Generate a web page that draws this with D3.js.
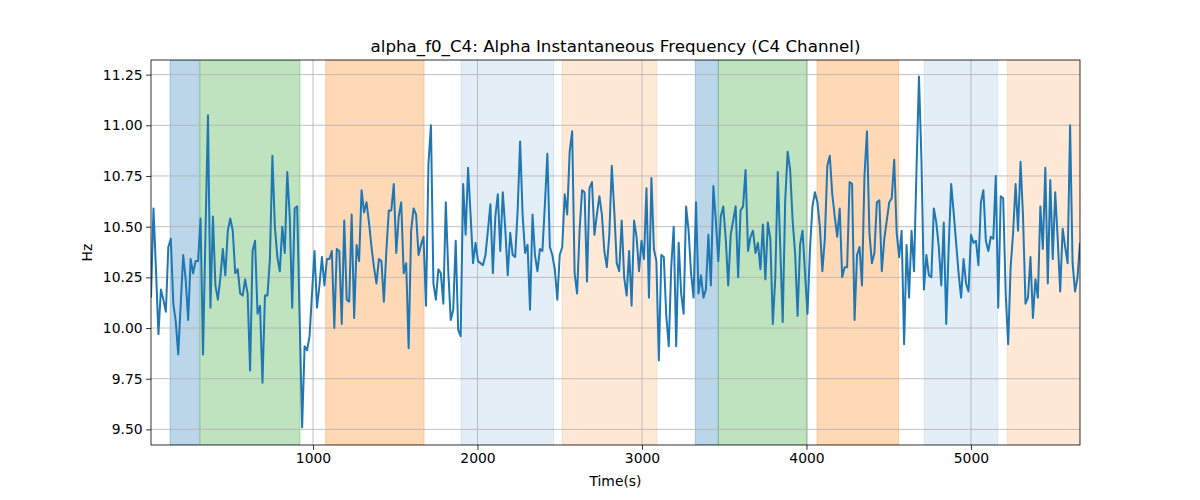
<!DOCTYPE html>
<html>
<head>
<meta charset="utf-8">
<script src="https://cdn.jsdelivr.net/npm/d3@7"></script>
<style>
  html, body { margin: 0; padding: 0; background: #ffffff; }
  svg { display: block; font-family: "DejaVu Sans", sans-serif; }
</style>
</head>
<body>
<svg id="chart" width="1200" height="500"></svg>
<script>
// ---------------- data ----------------
const titleText = "alpha_f0_C4: Alpha Instantaneous Frequency (C4 Channel)";
const xLabel = "Time(s)";
const yLabel = "Hz";

const tStart = 15;      // first sample time (s)
const tEnd = 5663;      // last sample time (s)

const freqValues = [
  10.15,10.59,10.29,9.97,10.19,10.14,10.08,10.40,10.44,10.12,
  10.03,9.87,10.12,10.36,10.24,10.04,10.34,10.27,10.33,10.33,
  10.54,9.87,10.47,11.05,10.10,10.55,10.21,10.14,10.25,10.39,
  10.26,10.48,10.54,10.48,10.27,10.29,10.17,10.16,10.24,10.17,
  9.79,10.38,10.43,10.07,10.11,9.73,10.16,10.16,10.34,10.85,
  10.50,10.35,10.28,10.50,
  10.37,10.77,10.55,10.10,10.59,10.60,10.05,9.51,9.91,9.89,
  9.96,10.17,10.38,10.10,10.21,10.35,10.21,10.34,10.34,10.38,
  10.00,10.39,10.38,10.02,10.53,10.14,10.13,10.56,10.05,10.41,
  10.33,10.68,10.57,10.62,10.52,10.40,10.30,10.22,10.34,10.33,
  10.13,10.38,10.58,10.58,10.71,10.37,10.55,10.62,10.27,10.32,
  9.90,10.48,10.59,
  10.56,10.36,10.41,10.45,10.11,10.81,11.00,10.22,10.14,10.29,
  10.27,10.12,10.62,10.28,10.04,10.09,10.43,9.99,9.96,10.71,
  10.46,10.79,10.56,10.32,10.42,10.33,10.32,10.31,10.36,10.48,
  10.61,10.27,10.55,10.66,10.38,10.67,10.49,10.26,10.47,10.36,
  10.35,10.58,10.92,10.56,10.37,10.41,10.09,10.56,10.36,10.28,
  10.39,10.38,10.61,10.86,
  10.40,10.36,10.29,10.14,10.36,10.40,10.66,10.56,10.87,10.97,
  10.27,10.17,10.48,10.68,10.67,10.23,10.69,10.72,10.46,10.56,
  10.65,10.56,10.38,10.30,
  10.46,10.80,10.58,10.32,10.28,10.53,10.25,10.16,10.38,10.11,
  10.53,10.45,10.28,10.43,10.34,10.69,10.15,10.74,10.39,10.33,
  9.84,10.36,10.35,10.06,9.91,10.30,10.50,9.91,10.42,10.17,
  10.07,10.60,10.48,10.27,10.15,10.62,10.17,10.26,10.15,10.19,
  10.46,10.21,10.70,10.53,10.33,10.55,10.60,10.44,10.21,10.46,
  10.53,10.60,10.25,10.58,10.60,10.78,10.38,10.45,10.48,10.37,
  10.42,10.29,10.51,10.24,10.52,10.44,10.02,10.25,10.77,10.40,
  10.03,10.63,10.87,10.78,10.53,10.37,10.06,10.41,10.48,10.27,
  10.07,10.39,10.60,10.67,
  10.62,10.50,10.28,10.44,10.80,10.85,10.66,10.55,10.45,10.59,
  10.25,10.30,10.30,10.72,10.71,10.04,10.36,10.40,10.21,10.75,
  10.97,10.47,10.32,10.37,10.62,10.63,10.28,10.44,10.53,10.62,
  10.64,10.83,10.47,10.35,10.48,9.92,10.41,10.15,10.48,10.28,
  10.78,11.24,10.83,10.19,10.36,10.26,10.25,10.59,10.52,10.40,
  10.21,10.52,10.02,
  10.40,10.71,10.57,10.42,10.27,10.15,10.34,10.22,10.18,10.46,
  10.42,10.43,10.31,10.62,10.68,10.43,10.38,10.45,10.44,10.75,
  10.10,10.65,10.64,10.17,9.92,10.30,10.47,10.71,10.48,10.82,
  10.55,10.12,10.15,10.35,10.05,10.24,10.15,10.60,10.39,10.79,
  10.22,10.73,10.34,10.67,10.44,10.18,10.49,10.40,10.32,11.00,
  10.32,10.18,10.25,10.42
];

// shaded stage spans
const spanStarts = [131, 313, 1077, 1900, 2514, 3324, 3464, 4064, 4716, 5222];
const spanEnds   = [309, 921, 1675, 2463, 3090, 3464, 4005, 4560, 5162, 5663];
const spanKinds  = ["blue", "green", "orange", "lightblue", "lightorange",
                    "blue", "green", "orange", "lightblue", "lightorange"];

const xTickValues = [1000, 2000, 3000, 4000, 5000];
const yTickValues = [9.50, 9.75, 10.00, 10.25, 10.50, 10.75, 11.00, 11.25];
const yDomain = [9.423, 11.322];

// ---------------- styles ----------------
const spanStyle = {
  blue:        { color: "#1f77b4", alpha: 0.30 },
  green:       { color: "#2ca02c", alpha: 0.30 },
  orange:      { color: "#ff7f0e", alpha: 0.30 },
  lightblue:   { color: "#1f77b4", alpha: 0.12 },
  lightorange: { color: "#ff7f0e", alpha: 0.17 }
};

const margin = { left: 151, right: 1080, top: 60, bottom: 445 };

const svg = d3.select("#chart");

const n = freqValues.length;
const step = (tEnd - tStart) / (n - 1);
const series = freqValues.map((v, i) => ({ t: tStart + i * step, v }));

const x = d3.scaleLinear().domain([tStart, tEnd]).range([margin.left, margin.right]);
const y = d3.scaleLinear().domain(yDomain).range([margin.bottom, margin.top]);

svg.append("defs").append("clipPath").attr("id", "plotclip")
  .append("rect")
  .attr("x", margin.left).attr("y", margin.top)
  .attr("width", margin.right - margin.left)
  .attr("height", margin.bottom - margin.top);

// spans
const spans = spanStarts.map((s, i) => ({ s, e: spanEnds[i], k: spanKinds[i] }));
svg.append("g").attr("clip-path", "url(#plotclip)")
  .selectAll("rect").data(spans).join("rect")
  .attr("x", d => x(d.s))
  .attr("y", margin.top)
  .attr("width", d => x(d.e) - x(d.s))
  .attr("height", margin.bottom - margin.top)
  .attr("fill", d => spanStyle[d.k].color)
  .attr("fill-opacity", d => spanStyle[d.k].alpha)
  .attr("stroke", d => spanStyle[d.k].color)
  .attr("stroke-opacity", d => spanStyle[d.k].alpha)
  .attr("stroke-width", 1);

// grid
const grid = svg.append("g");
grid.selectAll("line.gx").data(xTickValues).join("line")
  .attr("class", "gx")
  .attr("x1", d => x(d)).attr("x2", d => x(d))
  .attr("y1", margin.top).attr("y2", margin.bottom)
  .attr("stroke", "#b0b0b0").attr("stroke-width", 0.8);
grid.selectAll("line.gy").data(yTickValues).join("line")
  .attr("class", "gy")
  .attr("x1", margin.left).attr("x2", margin.right)
  .attr("y1", d => y(d)).attr("y2", d => y(d))
  .attr("stroke", "#b0b0b0").attr("stroke-width", 0.8);

// line
const line = d3.line().x(d => x(d.t)).y(d => y(d.v));
svg.append("path")
  .datum(series)
  .attr("clip-path", "url(#plotclip)")
  .attr("d", line)
  .attr("fill", "none")
  .attr("stroke", "#1f77b4")
  .attr("stroke-width", 2)
  .attr("stroke-linejoin", "round")
  .attr("stroke-linecap", "butt");

// axes
const xAxis = d3.axisBottom(x).tickValues(xTickValues).tickFormat(d3.format("d"))
  .tickSize(4.9).tickPadding(3.5);
const gx = svg.append("g")
  .attr("transform", `translate(0,${margin.bottom})`)
  .call(xAxis);
gx.select(".domain").remove();
gx.selectAll("text").attr("font-size", "13.9px").attr("fill", "#000")
  .attr("font-family", "DejaVu Sans");
gx.selectAll("line").attr("stroke", "#000").attr("stroke-width", 0.8);

const yAxis = d3.axisLeft(y).tickValues(yTickValues).tickFormat(d3.format(".2f"))
  .tickSize(4.9).tickPadding(3.5);
const gy = svg.append("g")
  .attr("transform", `translate(${margin.left},0)`)
  .call(yAxis);
gy.select(".domain").remove();
gy.selectAll("text").attr("font-size", "13.9px").attr("fill", "#000")
  .attr("font-family", "DejaVu Sans");
gy.selectAll("line").attr("stroke", "#000").attr("stroke-width", 0.8);

// frame
svg.append("rect")
  .attr("x", margin.left).attr("y", margin.top)
  .attr("width", margin.right - margin.left)
  .attr("height", margin.bottom - margin.top)
  .attr("fill", "none").attr("stroke", "#000").attr("stroke-width", 0.8);

// labels
svg.append("text")
  .attr("x", (margin.left + margin.right) / 2).attr("y", 52)
  .attr("text-anchor", "middle")
  .attr("font-size", "16.7px")
  .text(titleText);

svg.append("text")
  .attr("x", (margin.left + margin.right) / 2).attr("y", 486)
  .attr("text-anchor", "middle")
  .attr("font-size", "13.9px")
  .text(xLabel);

svg.append("text")
  .attr("transform", `translate(92,${(margin.top + margin.bottom) / 2}) rotate(-90)`)
  .attr("text-anchor", "middle")
  .attr("font-size", "13.9px")
  .text(yLabel);
</script>
</body>
</html>
